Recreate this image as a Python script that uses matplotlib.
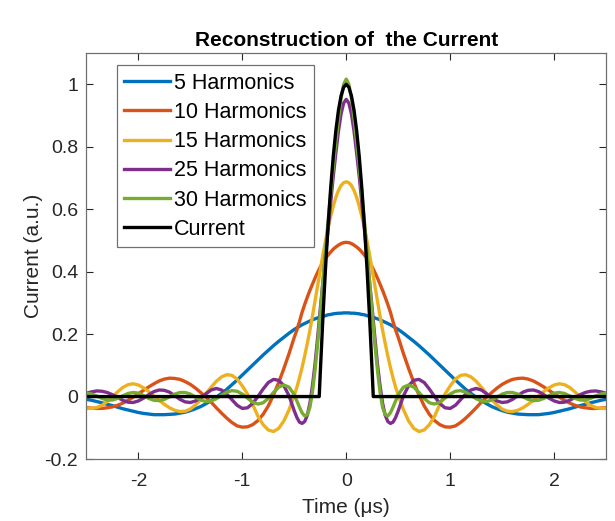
import numpy as np
import matplotlib
matplotlib.use("Agg")
from matplotlib import pyplot as plt

# values for t >= 0 (the curves are symmetric around t = 0)
time_half = [0, 0.025, 0.05, 0.075, 0.1, 0.125, 0.15, 0.175, 0.2, 0.225, 0.25, 0.275,
             0.3, 0.325, 0.35, 0.375, 0.4, 0.425, 0.45, 0.475, 0.5,
             0.55, 0.6, 0.65, 0.7, 0.75, 0.8, 0.85, 0.9, 0.95, 1.0,
             1.05, 1.1, 1.15, 1.2, 1.25, 1.3, 1.35, 1.4, 1.45, 1.5,
             1.55, 1.6, 1.65, 1.7, 1.75, 1.8, 1.85, 1.9, 1.95, 2.0,
             2.05, 2.1, 2.15, 2.2, 2.25, 2.3, 2.35, 2.4, 2.45, 2.5]

h5 = [0.268, 0.268, 0.267, 0.267, 0.266, 0.265, 0.263, 0.262, 0.259, 0.257, 0.255, 0.252,
      0.249, 0.246, 0.242, 0.238, 0.234, 0.230, 0.225, 0.220, 0.215,
      0.203, 0.190, 0.177, 0.163, 0.148, 0.133, 0.117, 0.101, 0.085, 0.069,
      0.053, 0.038, 0.023, 0.010, -0.002, -0.013, -0.023, -0.032, -0.039, -0.045,
      -0.050, -0.053, -0.056, -0.057, -0.058, -0.058, -0.058, -0.056, -0.054, -0.051,
      -0.047, -0.043, -0.039, -0.034, -0.029, -0.025, -0.020, -0.016, -0.012, -0.009]

h10 = [0.494, 0.493, 0.490, 0.485, 0.479, 0.472, 0.463, 0.453, 0.443, 0.430, 0.415, 0.398,
       0.380, 0.360, 0.340, 0.318, 0.295, 0.270, 0.240, 0.213, 0.190,
       0.138, 0.090, 0.045, 0.005, -0.030, -0.057, -0.077, -0.090, -0.097, -0.098,
       -0.094, -0.083, -0.069, -0.053, -0.036, -0.018, -0.002, 0.013, 0.027, 0.039,
       0.048, 0.055, 0.058, 0.059, 0.056, 0.050, 0.041, 0.031, 0.020, 0.009,
       -0.002, -0.012, -0.021, -0.028, -0.033, -0.036, -0.038, -0.038, -0.037, -0.036]

h15 = [0.688, 0.685, 0.676, 0.660, 0.638, 0.610, 0.577, 0.540, 0.498, 0.453, 0.405, 0.356,
       0.307, 0.258, 0.212, 0.170, 0.130, 0.093, 0.060, 0.030, 0.004,
       -0.042, -0.078, -0.102, -0.112, -0.107, -0.090, -0.063, -0.025, 0.008, 0.034,
       0.056, 0.068, 0.070, 0.063, 0.049, 0.030, 0.010, -0.010, -0.027, -0.040,
       -0.047, -0.048, -0.044, -0.036, -0.025, -0.012, 0.002, 0.016, 0.028, 0.037,
       0.041, 0.038, 0.029, 0.015, -0.001, -0.016, -0.028, -0.035, -0.038, -0.038]

h25 = [0.952, 0.940, 0.905, 0.850, 0.780, 0.705, 0.620, 0.535, 0.450, 0.365, 0.280, 0.190,
       0.105, 0.035, -0.022, -0.060, -0.080, -0.086, -0.082, -0.067, -0.046,
       0.002, 0.035, 0.052, 0.055, 0.045, 0.024, 0.000, -0.022, -0.036, -0.038,
       -0.028, -0.010, 0.008, 0.021, 0.026, 0.021, 0.009, -0.004, -0.014, -0.019,
       -0.017, -0.009, 0.003, 0.014, 0.020, 0.021, 0.016, 0.006, -0.005, -0.014,
       -0.019, -0.018, -0.012, -0.003, 0.006, 0.013, 0.017, 0.018, 0.015, 0.011]

h30 = [1.017, 1.000, 0.955, 0.890, 0.815, 0.735, 0.650, 0.560, 0.465, 0.365, 0.265, 0.170,
       0.085, 0.015, -0.035, -0.058, -0.062, -0.052, -0.034, -0.014, 0.006,
       0.030, 0.037, 0.030, 0.013, -0.006, -0.020, -0.024, -0.018, -0.005, 0.008,
       0.017, 0.019, 0.014, 0.004, -0.007, -0.014, -0.016, -0.011, -0.002, 0.008,
       0.013, 0.013, 0.008, -0.001, -0.009, -0.013, -0.012, -0.006, 0.003, 0.011,
       0.013, 0.010, 0.002, -0.006, -0.011, -0.011, -0.006, 0.002, 0.008, 0.011]

current_time = [0, 0.025, 0.05, 0.075, 0.1, 0.125, 0.15, 0.175, 0.2, 0.225, 0.25, 0.26, 2.5]
current = [1.0, 0.991, 0.963, 0.917, 0.852, 0.769, 0.667, 0.547, 0.408, 0.25, 0.075, 0.0, 0.0]

labels = ["5 Harmonics", "10 Harmonics", "15 Harmonics", "25 Harmonics", "30 Harmonics", "Current"]
colors = ["#0072BD", "#D95319", "#EDB120", "#7E2F8E", "#77AC30", "black"]

xticks = [-2, -1, 0, 1, 2]
yticks = [-0.2, 0, 0.2, 0.4, 0.6, 0.8, 1]
yticklabels = ["-0.2", "0", "0.2", "0.4", "0.6", "0.8", "1"]


def mirror(t, v):
    # rebuild the full curve from the t >= 0 half
    t = np.asarray(t, dtype=float)
    v = np.asarray(v, dtype=float)
    return np.concatenate([-t[:0:-1], t]), np.concatenate([v[:0:-1], v])


plt.rcParams['font.family'] = ['Liberation Sans', 'DejaVu Sans']
plt.rcParams['axes.unicode_minus'] = False

fig = plt.figure(figsize=(6.15, 5.21), dpi=100)
ax = fig.add_axes([0.1405, 0.119, 0.845, 0.779])

series = [(time_half, h5), (time_half, h10), (time_half, h15),
          (time_half, h25), (time_half, h30), (current_time, current)]
for (t, v), lab, col in zip(series, labels, colors):
    tt, vv = mirror(t, v)
    ax.plot(tt, vv, color=col, lw=2.4, label=lab, solid_joinstyle='round')

ax.set_xlim(-2.5, 2.5)
ax.set_ylim(-0.2, 1.1)
ax.set_xticks(xticks)
ax.set_xticklabels([str(x) for x in xticks])
ax.set_yticks(yticks)
ax.set_yticklabels(yticklabels)

ax.tick_params(direction='in', length=5, width=0.8, top=True, right=True,
               labelsize=14, colors='#262626', pad=6)
ax.tick_params(axis='x', pad=10)
for s in ax.spines.values():
    s.set_color('#707070')
    s.set_linewidth(0.9)

ax.set_title("Reconstruction of  the Current", fontsize=15, fontweight='bold', pad=5)
ax.set_xlabel("Time (\u03bcs)", fontsize=15, color='#262626', labelpad=6)
ax.set_ylabel("Current (a.u.)", fontsize=15, color='#262626', labelpad=1)

leg = ax.legend(loc='upper left', bbox_to_anchor=(0.0587, 0.970), borderaxespad=0,
                fontsize=15.5, fancybox=False, framealpha=1, edgecolor='#707070',
                handlelength=2.1, handletextpad=0.2, labelspacing=0.38, borderpad=0.35)
leg.get_frame().set_linewidth(0.9)

fig.savefig("out.png", dpi=100)
